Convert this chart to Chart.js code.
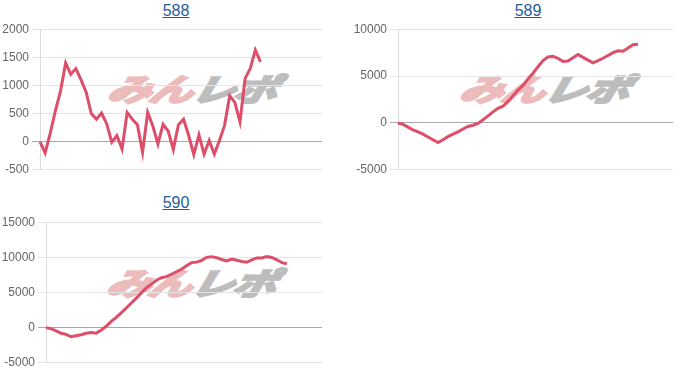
<!DOCTYPE html>
<html><head><meta charset="utf-8">
<script src="https://cdn.jsdelivr.net/npm/chart.js@4.4.1/dist/chart.umd.min.js"></script>
<style>
body{margin:0;background:#fff;width:700px;height:386px;overflow:hidden;position:relative;font-family:"Liberation Sans",Arial,sans-serif}
.title{position:absolute;width:120px;text-align:center;font-size:16px;line-height:18px;color:#1f5c99;text-decoration:underline}
.wm{position:absolute;font-family:"Noto Sans CJK JP";font-weight:700;font-style:italic;font-size:31px;line-height:31px;white-space:nowrap;transform:translate(-50%,0) skewX(-14deg) scaleX(1.4);z-index:0;letter-spacing:-1px}
.wm .a{color:#ecbcbc;-webkit-text-stroke:2.5px #ecbcbc}
.wm .b{color:#bdbdbd;-webkit-text-stroke:2.5px #bdbdbd}
canvas{position:absolute;z-index:1}
</style></head>
<body>
<div class="title" style="left:116px;top:2px">588</div>
<div class="title" style="left:468px;top:2px">589</div>
<div class="title" style="left:116px;top:194px">590</div>
<div class="wm" style="left:193px;top:72px"><span class="a">みん</span><span class="b">レポ</span></div>
<div class="wm" style="left:545px;top:72px"><span class="a">みん</span><span class="b">レポ</span></div>
<div class="wm" style="left:192px;top:266px"><span class="a">みん</span><span class="b">レポ</span></div>
<canvas id="c588" width="322" height="161" style="left:0;top:19px"></canvas>
<canvas id="c589" width="323" height="161" style="left:350px;top:19px"></canvas>
<canvas id="c590" width="322" height="161" style="left:0;top:212px"></canvas>
<script>
const slotCount = 56;
const categories = Array.from({length: slotCount}, (_, i) => String(i + 1));

const series588 = [0, -200, 150, 550, 900, 1400, 1200, 1300, 1100, 880, 500, 400, 510, 320, -10, 110, -130, 520, 400, 300, -190, 520, 280, -40, 310, 190, -140, 300, 400, 110, -230, 120, -220, 20, -220, 20, 290, 820, 700, 350, 1120, 1300, 1630, 1420];
const series589 = [0, -150, -450, -750, -950, -1200, -1500, -1800, -2100, -1800, -1450, -1200, -950, -650, -380, -250, -50, 330, 760, 1180, 1560, 1780, 2300, 2900, 3500, 4000, 4700, 5300, 6000, 6650, 7050, 7100, 6900, 6550, 6600, 6950, 7300, 7000, 6700, 6420, 6650, 6900, 7200, 7500, 7700, 7650, 8000, 8350, 8400];
const series590 = [0, -150, -450, -800, -950, -1300, -1150, -1000, -800, -700, -800, -350, 200, 900, 1450, 2100, 2800, 3500, 4200, 4950, 5650, 6200, 6750, 7100, 7250, 7600, 7950, 8300, 8800, 9250, 9320, 9550, 10000, 10100, 9950, 9700, 9500, 9750, 9600, 9400, 9300, 9650, 9920, 9920, 10100, 9980, 9650, 9250, 9100];

const ticks588 = [-500, 0, 500, 1000, 1500, 2000];
const ticks589 = [-5000, 0, 5000, 10000];
const ticks590 = [-5000, 0, 5000, 10000, 15000];

function makeChart(id, data, tickVals, axisW) {
  const min = tickVals[0], max = tickVals[tickVals.length - 1];
  return new Chart(document.getElementById(id), {
    type: 'line',
    data: {
      labels: categories,
      datasets: [{
        data: data,
        borderColor: 'rgb(221,78,104)',
        borderWidth: 3,
        pointRadius: 0,
        tension: 0,
        fill: false
      }]
    },
    options: {
      responsive: false,
      animation: false,
      layout: {padding: 0},
      plugins: {legend: {display: false}, tooltip: {enabled: false}},
      scales: {
        x: {display: false},
        y: {
          min: min, max: max,
          afterBuildTicks: s => { s.ticks = tickVals.map(v => ({value: v})); },
          afterFit: s => { s.width = axisW; },
          ticks: {
            color: '#666',
            font: {size: 12, family: '"Liberation Sans", Arial, sans-serif'},
            callback: v => String(v)
          },
          grid: {
            color: c => (c.tick && c.tick.value === 0) ? '#a8a8a8' : '#e4e4e4',
            tickLength: 8
          },
          border: {color: '#dcdcdc'}
        }
      }
    }
  });
}
makeChart('c588', series588, ticks588, 40);
makeChart('c589', series589, ticks589, 48);
makeChart('c590', series590, ticks590, 46);
</script>
</body></html>
